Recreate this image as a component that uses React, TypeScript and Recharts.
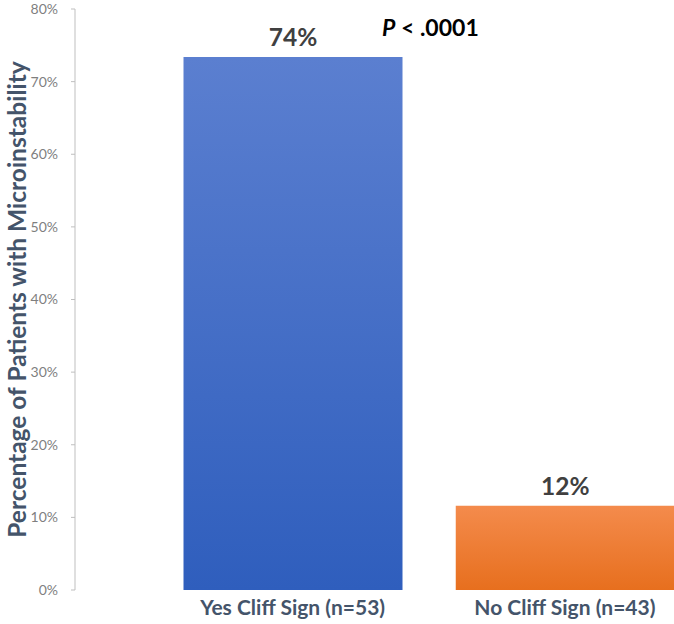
import React from "react";
import { BarChart, Bar, XAxis, YAxis, Cell, LabelList } from "recharts";

const categories = ["Yes Cliff Sign (n=53)", "No Cliff Sign (n=43)"];
const percentages = [73.4, 11.6];
const barLabels = ["74%", "12%"];
const yTicks = [0, 10, 20, 30, 40, 50, 60, 70, 80];
const pValueText = ".0001";

const data = categories.map((name, i) => ({
  name,
  value: percentages[i],
  label: barLabels[i],
}));

const FONT = "Lato, 'Open Sans', sans-serif";

export default function App() {
  return (
    <div
      style={{
        position: "absolute",
        left: 0,
        top: 0,
        width: 674,
        height: 624,
        overflow: "hidden",
        background: "#fff",
        fontFamily: FONT,
      }}
    >
      <BarChart
        width={701}
        height={624}
        data={data}
        margin={{ top: 9, right: 0, bottom: 4, left: 0 }}
      >
        <defs>
          <linearGradient id="gradBlue" x1="0" y1="0" x2="0" y2="1">
            <stop offset="0%" stopColor="#5b7fd0" />
            <stop offset="100%" stopColor="#2f5ebd" />
          </linearGradient>
          <linearGradient id="gradOrange" x1="0" y1="0" x2="0" y2="1">
            <stop offset="0%" stopColor="#f48b4c" />
            <stop offset="100%" stopColor="#e76f1e" />
          </linearGradient>
        </defs>
        <XAxis
          dataKey="name"
          axisLine={false}
          tickLine={false}
          tickSize={0}
          tickMargin={10}
          height={30}
          padding={{ left: 81.5, right: 0 }}
          interval={0}
          tick={{ fill: "#44546a", fontSize: 21, fontWeight: 700 }}
        />
        <YAxis
          width={75}
          domain={[0, 80]}
          ticks={yTicks}
          tickFormatter={(v) => `${v}%`}
          axisLine={{ stroke: "#bfbfbf" }}
          tickLine={{ stroke: "#bfbfbf" }}
          tickSize={4}
          tickMargin={13}
          tick={{ fill: "#7f7f7f", fontSize: 14 }}
          label={{
            value: "Percentage of Patients with Microinstability",
            angle: -90,
            position: "center",
            dx: -20.5,
            fill: "#44546a",
            fontSize: 24.5,
            fontWeight: 700,
          }}
        />
        <Bar dataKey="value" barSize={219} isAnimationActive={false}>
          <Cell fill="url(#gradBlue)" />
          <Cell fill="url(#gradOrange)" />
          <LabelList
            dataKey="label"
            position="top"
            offset={11}
            fill="#404040"
            fontSize={24.5}
            fontWeight={700}
          />
        </Bar>
      </BarChart>
      <div
        style={{
          position: "absolute",
          left: 382,
          top: 13,
          fontSize: 23,
          fontWeight: 700,
          color: "#000",
          whiteSpace: "nowrap",
        }}
      >
        <i>P</i> &lt; {pValueText}
      </div>
    </div>
  );
}
